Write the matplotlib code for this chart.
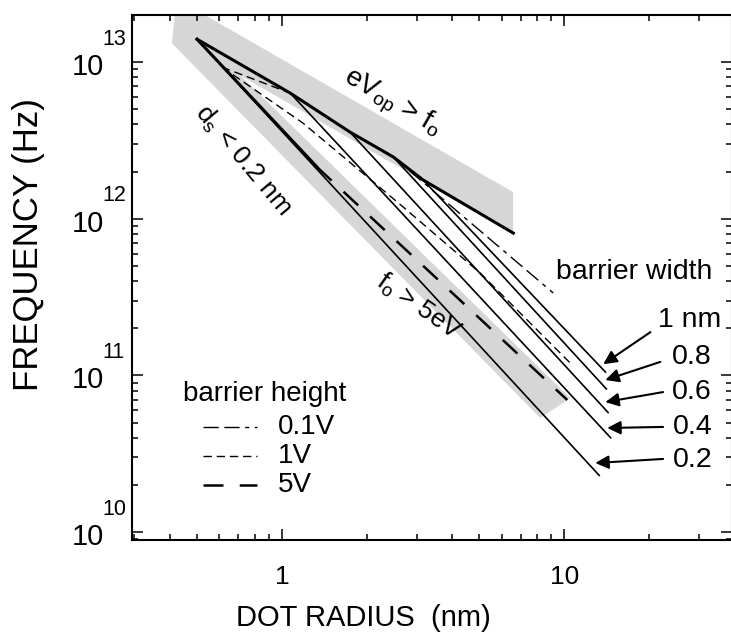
import matplotlib.pyplot as plt
from matplotlib.patches import Polygon
from matplotlib.ticker import LogLocator, NullFormatter, FixedLocator, FixedFormatter

plt.rcParams['font.family'] = ['Liberation Sans', 'DejaVu Sans']
plt.rcParams['mathtext.fontset'] = 'custom'
plt.rcParams['mathtext.rm'] = 'Liberation Sans'
plt.rcParams['mathtext.it'] = 'Liberation Sans'

# upper limit eV_op > f_o (thick line), knee points where width lines leave it
upper_r = [0.50, 1.07, 1.74, 2.48, 3.16, 6.6]
upper_f = [1.40e13, 6.34e12, 3.58e12, 2.48e12, 1.77e12, 8.1e11]

# lower limit d_s < 0.2 nm (thick part)
lower_r = [0.50, 1.33]
lower_f = [1.40e13, 2.14e12]

# barrier width lines (solid)
width_labels  = ['1 nm', '0.8', '0.6', '0.4', '0.2']
width_start_r = [3.16, 2.48, 1.74, 1.07, 0.50]
width_start_f = [1.77e12, 2.48e12, 3.58e12, 6.34e12, 1.40e13]
width_end_r   = [14.0, 14.1, 14.3, 14.6, 13.3]
width_end_f   = [1.05e11, 8.2e10, 5.8e10, 4.0e10, 2.3e10]

# barrier height lines (dashed)
h01_r = [2.48, 9.14]
h01_f = [2.48e12, 3.36e11]
h1_r = [0.613, 1.187, 2.686, 5.04, 10.5]
h1_f = [9.29e12, 4.08e12, 1.19e12, 4.50e11, 1.20e11]
h1b_r = [0.613, 1.07]
h1b_f = [9.29e12, 6.34e12]
h5_r = [1.33, 10.25]
h5_f = [2.14e12, 6.97e10]

# gray shaded region (outline points)
band_r = [0.407, 0.4175, 0.520, 6.59, 6.59, 0.710, 10.5, 8.22]
band_f = [1.32e13, 2.05e13, 2.05e13, 1.48e12, 8.1e11, 8.26e12, 7.17e10, 5.35e10]

# label arrows: tail, tip and text position
arrow_tail_r = [20.2, 21.9, 22.4, 22.4, 22.4]
arrow_tail_f = [1.89e11, 1.22e11, 7.83e10, 4.69e10, 2.93e10]
arrow_tip_r  = [13.75, 13.98, 13.98, 14.2, 12.88]
arrow_tip_f  = [1.18e11, 9.35e10, 6.76e10, 4.62e10, 2.76e10]
label_r = [21.5, 24.1, 24.1, 24.3, 24.3]
label_f = [2.26e11, 1.31e11, 7.83e10, 4.69e10, 2.88e10]

# hand-made legend
legend_title_r, legend_title_f = 0.446, 7.6e10
legend_line_r = [0.525, 0.815]
legend_text_r = 0.968
legend_f = [4.69e10, 3.06e10, 2.0e10]
legend_labels = ['0.1V', '1V', '5V']

# y axis decades
y_decades = [10, 11, 12, 13]

dash_01 = (11, 4, 11, 4, 3, 4)
dash_1 = (6, 3.5)
dash_5 = (8, 6.5)

fig = plt.figure(figsize=(7.31, 6.38), dpi=100)
ax = fig.add_axes([132 / 731, 98 / 638, 600 / 731, 525 / 638])
ax.set_xscale('log')
ax.set_yscale('log')
ax.set_xlim(0.294, 39.3)
ax.set_ylim(8.9e9, 2.0e13)

ax.add_patch(Polygon(list(zip(band_r, band_f)), closed=True,
                     facecolor='#d6d6d6', edgecolor='none', zorder=1))

ax.plot(upper_r, upper_f, color='black', lw=2.2, zorder=4)
ax.plot(lower_r, lower_f, color='black', lw=2.2, zorder=4)

for r0, f0, r1, f1 in zip(width_start_r, width_start_f, width_end_r, width_end_f):
    ax.plot([r0, r1], [f0, f1], color='black', lw=1.2, zorder=3)

ax.plot(h01_r, h01_f, color='black', lw=1.0, dashes=dash_01, zorder=3)
ax.plot(h1_r, h1_f, color='black', lw=1.0, dashes=dash_1, zorder=3)
ax.plot(h1b_r, h1b_f, color='black', lw=1.0, dashes=dash_1, zorder=3)
ax.plot(h5_r, h5_f, color='black', lw=1.8, dashes=dash_5, zorder=3)

ax.text(legend_title_r, legend_title_f, 'barrier height', fontsize=20, va='center', ha='left')
for ds, lw, lab, f in zip([dash_01, dash_1, dash_5], [1.0, 1.0, 1.8], legend_labels, legend_f):
    ax.plot(legend_line_r, [f, f], color='black', lw=lw, dashes=ds)
    ax.text(legend_text_r, f, lab, fontsize=20, va='center', ha='left')

ax.text(9.37, 4.57e11, 'barrier width', fontsize=20.5, va='center', ha='left')
for lab, lr, lf in zip(width_labels, label_r, label_f):
    ax.text(lr, lf, lab, fontsize=20.5, va='center', ha='left')
for r0, f0, r1, f1 in zip(arrow_tail_r, arrow_tail_f, arrow_tip_r, arrow_tip_f):
    ax.annotate('', xy=(r1, f1), xytext=(r0, f0),
                arrowprops=dict(arrowstyle='-|>', color='black', lw=1.5,
                                mutation_scale=20, shrinkA=0, shrinkB=0))

ax.text(2.45, 5.47e12, r'eV$_{\rm op}$ > f$_{\rm o}$', fontsize=20, rotation=-30,
        ha='center', va='center')
ax.text(0.73, 2.35e12, r'd$_{\rm s}$ < 0.2 nm', fontsize=19, rotation=-50,
        ha='center', va='center')
ax.text(3.05, 2.75e11, r'f$_{\rm o}$ > 5eV', fontsize=19, rotation=-35,
        ha='center', va='center')

ax.xaxis.set_major_locator(FixedLocator([1, 10]))
ax.xaxis.set_major_formatter(FixedFormatter(['1', '10']))
ax.xaxis.set_minor_locator(LogLocator(base=10, subs=range(2, 10)))
ax.xaxis.set_minor_formatter(NullFormatter())
ax.yaxis.set_major_locator(FixedLocator([10.0 ** d for d in y_decades]))
ax.yaxis.set_major_formatter(NullFormatter())
ax.yaxis.set_minor_locator(LogLocator(base=10, subs=range(2, 10), numticks=10))
ax.yaxis.set_minor_formatter(NullFormatter())

# y tick labels with a raised exponent, as in the original
for d in y_decades:
    ax.annotate('10', xy=(0, 10.0 ** d), xycoords=('axes fraction', 'data'),
                xytext=(-28, -5), textcoords='offset pixels',
                ha='right', va='center', fontsize=21)
    ax.annotate(str(d), xy=(0, 10.0 ** d), xycoords=('axes fraction', 'data'),
                xytext=(-30, 23), textcoords='offset pixels',
                ha='left', va='center', fontsize=15.5)

ax.tick_params(which='both', direction='in', top=True, right=True, width=1.1)
ax.tick_params(which='major', length=8)
ax.tick_params(which='minor', length=4)
ax.tick_params(axis='x', labelsize=19, pad=18)
for sp in ax.spines.values():
    sp.set_linewidth(1.5)

ax.set_xlabel('DOT RADIUS  (nm)', fontsize=21)
ax.xaxis.set_label_coords(0.385, -0.122)
ax.set_ylabel('FREQUENCY (Hz)', fontsize=25, ha='center', va='center')
ax.yaxis.set_label_coords(-0.173, 0.562)

fig.savefig('out.png', dpi=100)
